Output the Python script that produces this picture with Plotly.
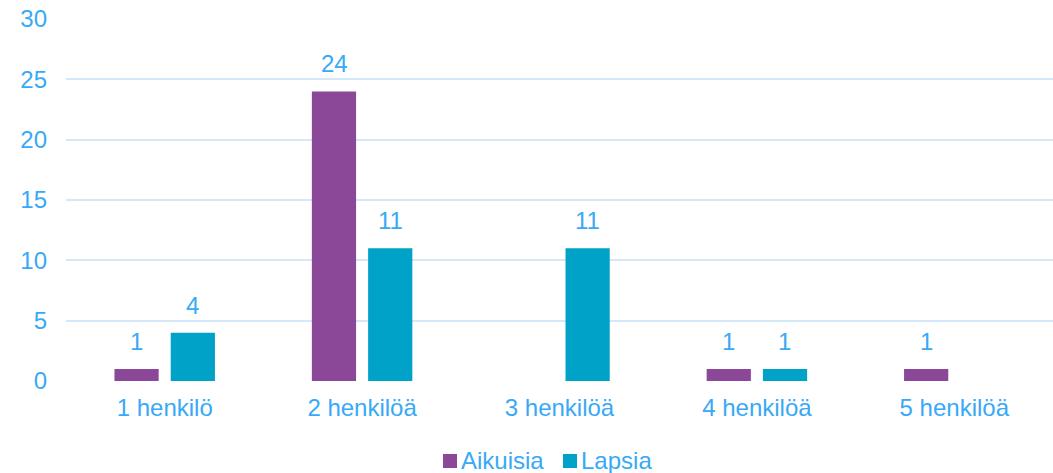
import plotly.graph_objects as go

categories = ["1 henkilö", "2 henkilöä", "3 henkilöä", "4 henkilöä", "5 henkilöä"]
aikuisia = [1, 24, 0, 1, 1]
lapsia = [4, 11, 11, 1, 0]
y_ticks = [0, 5, 10, 15, 20, 25, 30]

TEXT = "#38A9F6"
GRID = "#D3E9FA"
FONT = "Liberation Sans, Arial, sans-serif"
SIZE = 24

W, H = 1053, 473
ML, MR, MT, MB = 66, 0, 19, 92
PW, PH = W - ML - MR, H - MT - MB


def px_to_paper(px, py):
    return (px - ML) / PW, (H - MB - py) / PH


series = [
    ("Aikuisia", aikuisia, "#8B4898", -28),
    ("Lapsia", lapsia, "#00A2C7", 28),
]

fig = go.Figure()
annotations = []
shapes = []
for name, values, color, shift in series:
    fig.add_trace(go.Bar(
        name=name,
        x=categories,
        y=values,
        marker=dict(color=color, line=dict(width=0)),
        hoverinfo="skip",
        showlegend=False,
    ))
    # value labels above each non-zero bar
    for cat, v in zip(categories, values):
        if v:
            annotations.append(dict(
                x=cat, y=v, xref="x", yref="y",
                text=str(v), showarrow=False,
                xshift=shift, yshift=12, yanchor="bottom",
                font=dict(family=FONT, size=SIZE, color=TEXT),
            ))

# compact legend row below the axis: square swatch followed by the name
legend_left = [443, 563]
for (name, _, color, _), left in zip(series, legend_left):
    x0, y0 = px_to_paper(left, 468)
    x1, y1 = px_to_paper(left + 14, 454)
    shapes.append(dict(type="rect", xref="paper", yref="paper",
                       x0=x0, y0=y0, x1=x1, y1=y1,
                       fillcolor=color, line=dict(width=0)))
    tx, ty = px_to_paper(left + 16, 460)
    annotations.append(dict(
        x=tx, y=ty, xref="paper", yref="paper",
        text=name, showarrow=False,
        xanchor="left", yanchor="middle",
        font=dict(family=FONT, size=SIZE, color=TEXT),
    ))

fig.update_layout(
    width=W,
    height=H,
    margin=dict(l=ML, r=MR, t=MT, b=MB, autoexpand=False),
    paper_bgcolor="white",
    plot_bgcolor="white",
    barmode="group",
    bargap=0.43,
    bargroupgap=0.214,
    showlegend=False,
    font=dict(family=FONT, size=SIZE, color=TEXT),
    annotations=annotations,
    shapes=shapes,
    xaxis=dict(
        showgrid=False,
        showline=False,
        zeroline=False,
        ticks="",
        automargin=False,
        ticklabelstandoff=10,
        tickfont=dict(family=FONT, size=SIZE, color=TEXT),
    ),
    yaxis=dict(
        range=[0, 30],
        tickvals=y_ticks,
        showgrid=True,
        gridcolor=GRID,
        gridwidth=2,
        zeroline=False,
        showline=False,
        ticks="",
        automargin=False,
        ticklabelstandoff=18,
        tickfont=dict(family=FONT, size=SIZE, color=TEXT),
    ),
)

fig.write_html("out.html")
